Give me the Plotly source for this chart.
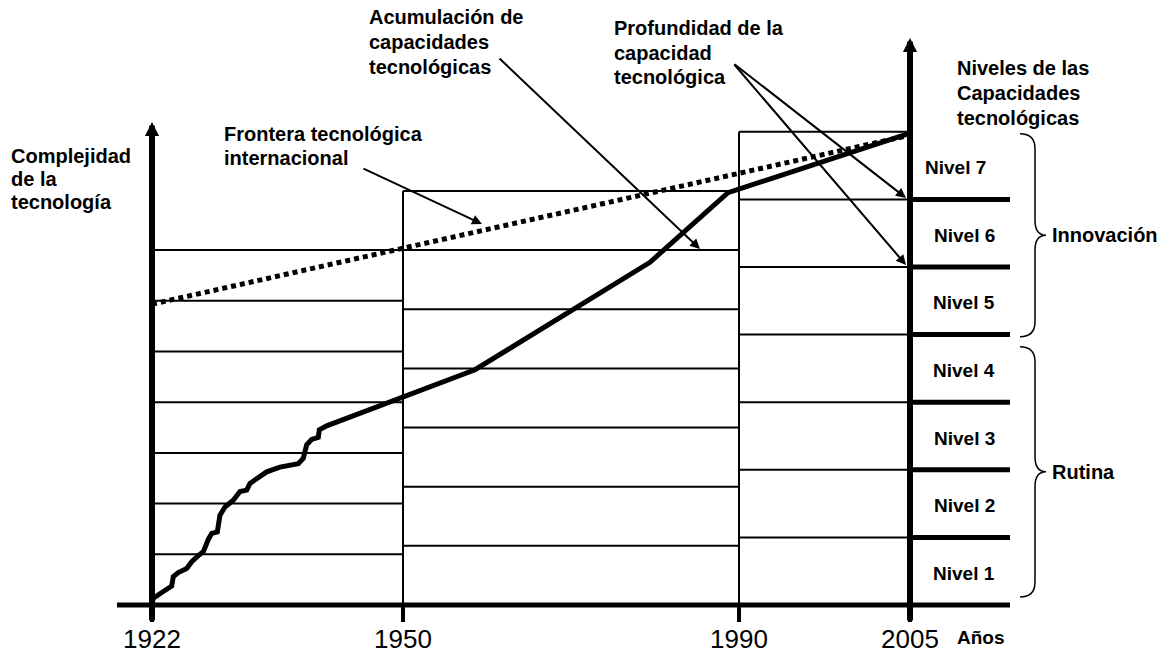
import plotly.graph_objects as go

# ---------------- data (schematic) ----------------
YEARS = [1922, 1950, 1990, 2005]
YEAR_POS = [152, 403, 739, 910]          # schematic horizontal position of each year (not to scale)
ERA_LEVEL_STEP = [0.75, 0.875, 1.0]      # height of one capability level in each era (2005 = 1)
N_LEVELS = 7
LEVEL_NAMES = ["Nivel 1", "Nivel 2", "Nivel 3", "Nivel 4", "Nivel 5", "Nivel 6", "Nivel 7"]
GROUP_NAMES = ["Rutina", "Innovación"]
GROUP_RANGE = [(0.12, 3.82), (3.97, 6.97)]

# accumulation of technological capabilities (schematic x, level)
ACC_X = [152, 153.3, 163.3, 171.7, 173.3, 178.3, 186.7, 191.7, 198.3, 203.3, 208.3, 211.7,
         217.3, 220, 225, 233.3, 240, 246.7, 250, 256.7, 266.7, 280, 298.3, 303.3, 306.7,
         311.7, 318.3, 319.3, 326.7, 475, 650, 728, 910]
ACC_Y = [0.02, 0.10, 0.20, 0.28, 0.42, 0.48, 0.54, 0.64, 0.73, 0.79, 0.97, 1.06,
         1.08, 1.33, 1.45, 1.55, 1.68, 1.70, 1.80, 1.87, 1.97, 2.04, 2.09, 2.17, 2.37,
         2.45, 2.48, 2.59, 2.65, 3.48, 5.07, 6.10, 6.98]

# international technological frontier
FRONTIER_X = [152, 910]
FRONTIER_Y = [4.45, 6.95]

AXIS_END_X = 1010
AXIS_START_X = 117

# ---------------- geometry helpers ----------------
W, H = 1164, 654
BASE_PX, UNIT_PX = 605, 67.6
Y_MIN = -(H - BASE_PX) / UNIT_PX
Y_MAX = BASE_PX / UNIT_PX


def lvl(py):
    return (BASE_PX - py) / UNIT_PX


def paper(px, py):
    return px / W, 1 - py / H


FONT = "Liberation Sans, Arial, sans-serif"
fig = go.Figure()

# thin grid of each era
hx, hy = [], []
for i, step in enumerate(ERA_LEVEL_STEP):
    x0, x1 = YEAR_POS[i], YEAR_POS[i + 1]
    for k in range(1, N_LEVELS + 1):
        hx += [x0, x1, None]
        hy += [k * step, k * step, None]
# vertical era boundaries
for i in (1, 2):
    top = N_LEVELS * max(ERA_LEVEL_STEP[i - 1], ERA_LEVEL_STEP[i])
    hx += [YEAR_POS[i], YEAR_POS[i], None]
    hy += [0, top, None]
fig.add_trace(go.Scatter(x=hx, y=hy, mode="lines", line=dict(color="black", width=2),
                         hoverinfo="skip"))

# thick level lines to the right of the 2005 axis
tx, ty = [], []
for k in range(1, N_LEVELS):
    tx += [YEAR_POS[-1], AXIS_END_X, None]
    ty += [k, k, None]
fig.add_trace(go.Scatter(x=tx, y=ty, mode="lines", line=dict(color="black", width=5),
                         hoverinfo="skip"))

# horizontal axis and year ticks
fig.add_trace(go.Scatter(x=[AXIS_START_X, AXIS_END_X], y=[0, 0], mode="lines",
                         line=dict(color="black", width=5), hoverinfo="skip"))
kx, ky = [], []
for p in YEAR_POS:
    kx += [p, p, None]
    ky += [0, lvl(622), None]
fig.add_trace(go.Scatter(x=kx, y=ky, mode="lines", line=dict(color="black", width=4),
                         hoverinfo="skip"))

# frontier (dotted)
fig.add_trace(go.Scatter(x=FRONTIER_X, y=FRONTIER_Y, mode="lines",
                         line=dict(color="black", width=5, dash="5px,4px"), hoverinfo="skip"))

# accumulation curve
fig.add_trace(go.Scatter(x=ACC_X, y=ACC_Y, mode="lines",
                         line=dict(color="black", width=5), hoverinfo="skip"))

ann = []

# vertical axes with arrowheads
for xpos, tip_px in ((YEAR_POS[0], 122), (YEAR_POS[-1], 38)):
    ann.append(dict(x=xpos, y=lvl(tip_px), ax=xpos, ay=lvl(622), xref="x", yref="y",
                    axref="x", ayref="y", text="", showarrow=True, arrowhead=2,
                    arrowwidth=6, arrowsize=0.47, arrowcolor="black"))

# callout arrows
ARROWS = [((362, 168), (482, 224)),
          ((498, 57), (700, 249)),
          ((733, 63), (906, 198)),
          ((733, 63), (906, 265))]
for (sx, sy), (ex, ey) in ARROWS:
    ann.append(dict(x=ex, y=lvl(ey), ax=sx, ay=lvl(sy), xref="x", yref="y",
                    axref="x", ayref="y", text="", showarrow=True, arrowhead=2,
                    arrowwidth=2, arrowsize=1, arrowcolor="black"))

# text labels
LABELS = [("Complejidad", 10, 155.5), ("de la", 10, 179), ("tecnología", 10, 202.5),
          ("Frontera tecnológica", 223, 133.5), ("internacional", 223, 158),
          ("Acumulación de", 368, 17.5), ("capacidades", 368, 42), ("tecnológicas", 368, 66.5),
          ("Profundidad de la", 613, 28), ("capacidad", 613, 52.5), ("tecnológica", 613, 77),
          ("Niveles de las", 956, 68.5), ("Capacidades", 956, 93), ("tecnológicas", 956, 117.5)]
for t, px, py in LABELS:
    xp, yp = paper(px - 1, py)
    ann.append(dict(x=xp, y=yp, xref="paper", yref="paper", text="<b>%s</b>" % t,
                    showarrow=False, xanchor="left", yanchor="middle",
                    font=dict(family=FONT, size=20, color="black")))

# level names
for k, name in enumerate(LEVEL_NAMES, start=1):
    xc = 955 if k == N_LEVELS else 964
    ann.append(dict(x=xc, y=k - 0.5 - 0.03, xref="x", yref="y", text="<b>%s</b>" % name,
                    showarrow=False, xanchor="center", yanchor="middle",
                    font=dict(family=FONT, size=19, color="black")))

# year labels
for yr, p in zip(YEARS, YEAR_POS):
    ann.append(dict(x=p, y=lvl(639), xref="x", yref="y", text=str(yr), showarrow=False,
                    xanchor="center", yanchor="middle",
                    font=dict(family=FONT, size=26, color="black")))
ann.append(dict(x=955, y=lvl(637), xref="x", yref="y", text="<b>Años</b>", showarrow=False,
                xanchor="left", yanchor="middle", font=dict(family=FONT, size=19, color="black")))

# braces and group labels
shapes = []
BX_TIP, BX_SPINE, BX_POINT = 1020, 1035, 1046
d = 15 / UNIT_PX
for name, (y0, y1) in zip(GROUP_NAMES, GROUP_RANGE):
    ym = (y0 + y1) / 2
    path = (f"M {BX_TIP},{y1} Q {BX_SPINE},{y1} {BX_SPINE},{y1 - d} "
            f"L {BX_SPINE},{ym + d} Q {BX_SPINE},{ym} {BX_POINT},{ym} "
            f"Q {BX_SPINE},{ym} {BX_SPINE},{ym - d} "
            f"L {BX_SPINE},{y0 + d} Q {BX_SPINE},{y0} {BX_TIP},{y0}")
    shapes.append(dict(type="path", path=path, xref="x", yref="y",
                       line=dict(color="black", width=1.5)))
    ann.append(dict(x=BX_POINT + 4, y=ym, xref="x", yref="y", text="<b>%s</b>" % name,
                    showarrow=False, xanchor="left", yanchor="middle",
                    font=dict(family=FONT, size=20, color="black")))

fig.update_layout(
    width=W, height=H, margin=dict(l=0, r=0, t=0, b=0),
    paper_bgcolor="white", plot_bgcolor="white", showlegend=False, hovermode=False,
    xaxis=dict(range=[0, W], visible=False, fixedrange=True),
    yaxis=dict(range=[Y_MIN, Y_MAX], visible=False, fixedrange=True),
    annotations=ann, shapes=shapes,
)

fig.write_html(
    "out.html",
    config={"displayModeBar": False},
    post_script="document.body.style.margin='0';document.body.style.overflow='hidden';",
)
